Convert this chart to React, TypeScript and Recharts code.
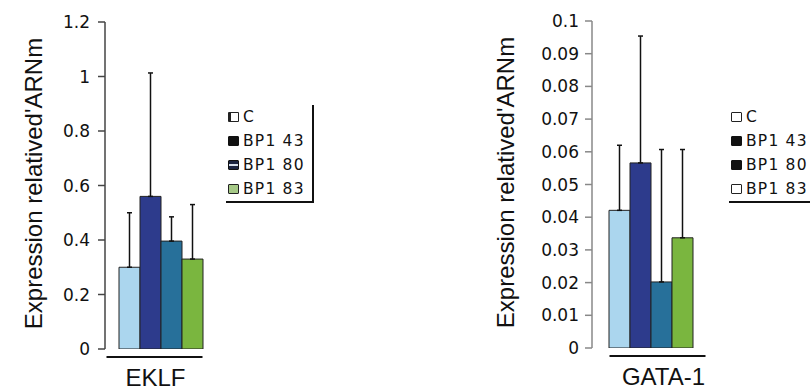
import React from 'react';
import { BarChart, Bar, XAxis, YAxis, ErrorBar, Legend } from 'recharts';

// series shared by both panels
const seriesNames = ['C', 'BP1 43', 'BP1 80', 'BP1 83'];
const seriesColors = ['#abd6ee', '#2d3b8c', '#27709a', '#7ab63f'];

// EKLF panel (means + upper error)
const eklfMeans = [0.30, 0.56, 0.396, 0.33];
const eklfErrors = [0.20, 0.453, 0.089, 0.20];
const eklfTicks = [0, 0.2, 0.4, 0.6, 0.8, 1, 1.2];

// GATA-1 panel
const gataMeans = [0.0421, 0.0566, 0.0202, 0.0337];
const gataErrors = [0.0199, 0.0388, 0.0405, 0.027];
const gataTicks = [0, 0.01, 0.02, 0.03, 0.04, 0.05, 0.06, 0.07, 0.08, 0.09, 0.1];

const yTitle = "Expression relatived'ARNm";

const buildRow = (name: string, means: number[], errors: number[]) => {
  const row: any = { name };
  means.forEach((m, i) => {
    row[`v${i}`] = m;
    row[`e${i}`] = [0, errors[i]]; // only upward whiskers
  });
  return [row];
};

const eklfData = buildRow('EKLF', eklfMeans, eklfErrors);
const gataData = buildRow('GATA-1', gataMeans, gataErrors);

const leftIcons: React.CSSProperties[] = [
  { background: '#fff', border: '1.5px solid #222', borderLeftWidth: 3 },
  { background: '#111', border: '1.5px solid #111' },
  { background: 'linear-gradient(#1b2440 35%, #d6deea 35%, #d6deea 62%, #1b2440 62%)', border: '1.5px solid #111' },
  { background: '#a6c987', border: '1.5px solid #222' },
];
const rightIcons: React.CSSProperties[] = [
  { background: '#fff', border: '1.5px solid #222' },
  { background: '#111', border: '1.5px solid #111' },
  { background: '#111', border: '1.5px solid #111' },
  { background: '#fff', border: '1.5px solid #222' },
];

const YTitle = ({ viewBox, cx }: any) => {
  const cy = viewBox.y + viewBox.height / 2 - 2;
  return (
    <text
      x={cx}
      y={cy}
      dy="0.36em"
      transform={`rotate(-90 ${cx} ${cy})`}
      textAnchor="middle"
      fontFamily="'Liberation Sans', Arial, sans-serif"
      fontSize={24}
      fill="#111"
    >
      {yTitle}
    </text>
  );
};

const CategoryTick = ({ x, y, payload, lineFrom, lineTo, textDx }: any) => (
  <g>
    <line x1={x + lineFrom} x2={x + lineTo} y1={y + 8} y2={y + 8} stroke="#111" strokeWidth={2} />
    <text
      x={x + textDx}
      y={y + 37}
      textAnchor="middle"
      fontFamily="'Liberation Sans', Arial, sans-serif"
      fontSize={24}
      fill="#111"
    >
      {payload.value}
    </text>
  </g>
);

const makeLegend = (icons: React.CSSProperties[], framed: boolean) => (props: any) => {
  const items = [...(props.payload || [])].sort(
    (a: any, b: any) => seriesNames.indexOf(a.value) - seriesNames.indexOf(b.value)
  );
  return (
    <div
      style={{
        borderBottom: '2px solid #111',
        borderRight: framed ? '2px solid #111' : 'none',
        paddingLeft: 2,
      }}
    >
      {items.map((item: any) => (
        <div
          key={item.value}
          style={{
            height: 24,
            display: 'flex',
            alignItems: 'center',
            fontFamily: "'DejaVu Sans', sans-serif",
            fontSize: 15.5,
            letterSpacing: 1.2,
            color: '#111',
          }}
        >
          <span
            style={{
              width: 11,
              height: 10,
              boxSizing: 'border-box',
              marginRight: 4,
              borderRadius: 1,
              ...icons[seriesNames.indexOf(item.value)],
            }}
          />
          {item.value}
        </div>
      ))}
    </div>
  );
};

interface PanelProps {
  data: any[];
  ticks: number[];
  left: number;
  width: number;
  top: number;
  bottom: number;
  axisWidth: number;
  rightMargin: number;
  axisColor: string;
  tickMargin: number;
  titleX: number;
  lineFrom: number;
  lineTo: number;
  textDx: number;
  legendLeft: number;
  legendWidth: number;
  icons: React.CSSProperties[];
  framed: boolean;
}

const Panel = (p: PanelProps) => (
  <div style={{ position: 'absolute', left: p.left, top: 0 }}>
    <BarChart
      width={p.width}
      height={392}
      data={p.data}
      barGap={0}
      margin={{ top: p.top, right: p.rightMargin, bottom: 0, left: 0 }}
    >
      <XAxis
        dataKey="name"
        axisLine={false}
        tickLine={false}
        tickSize={0}
        tickMargin={0}
        height={392 - p.bottom}
        tick={(t: any) => <CategoryTick {...t} lineFrom={p.lineFrom} lineTo={p.lineTo} textDx={p.textDx} />}
      />
      <YAxis
        width={p.axisWidth}
        domain={[p.ticks[0], p.ticks[p.ticks.length - 1]]}
        ticks={p.ticks}
        interval={0}
        allowDataOverflow
        axisLine={{ stroke: p.axisColor, strokeWidth: 1.5 }}
        tickLine={{ stroke: p.axisColor, strokeWidth: 1.5 }}
        tickSize={7}
        tickMargin={p.tickMargin}
        tick={{ fill: '#111', fontSize: 17, fontFamily: "'DejaVu Sans', sans-serif" }}
        label={<YTitle cx={p.titleX} />}
      />
      <Legend
        layout="vertical"
        align="center"
        verticalAlign="middle"
        wrapperStyle={{ left: p.legendLeft, top: 105, width: p.legendWidth }}
        content={makeLegend(p.icons, p.framed)}
      />
      {seriesNames.map((s, i) => (
        <Bar
          key={s}
          name={s}
          dataKey={`v${i}`}
          fill={seriesColors[i]}
          stroke="#222"
          strokeWidth={1}
          barSize={21}
          isAnimationActive={false}
        >
          <ErrorBar dataKey={`e${i}`} width={2.5} stroke="#111" strokeWidth={1.5} direction="y" />
        </Bar>
      ))}
    </BarChart>
  </div>
);

export default function App() {
  return (
    <div style={{ position: 'absolute', left: 0, top: 0, width: 810, height: 392, background: '#fff', overflow: 'hidden' }}>
      <Panel
        data={eklfData}
        ticks={eklfTicks}
        left={0}
        width={400}
        top={22}
        bottom={349}
        axisWidth={105}
        rightMargin={184}
        axisColor="#444"
        tickMargin={8}
        titleX={33}
        lineFrom={-54}
        lineTo={42}
        textDx={-5}
        legendLeft={226}
        legendWidth={88}
        icons={leftIcons}
        framed
      />
      <Panel
        data={gataData}
        ticks={gataTicks}
        left={400}
        width={410}
        top={21}
        bottom={348}
        axisWidth={192}
        rightMargin={101}
        axisColor="#888"
        tickMargin={6}
        titleX={105}
        lineFrom={-41}
        lineTo={55}
        textDx={13}
        legendLeft={329}
        legendWidth={90}
        icons={rightIcons}
        framed={false}
      />
    </div>
  );
}
